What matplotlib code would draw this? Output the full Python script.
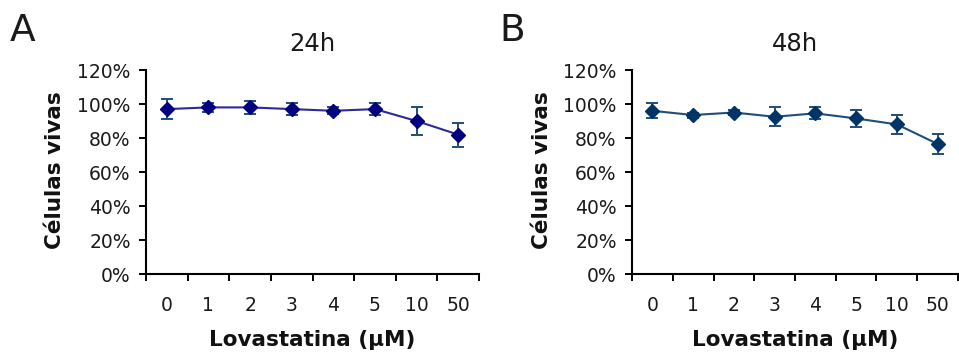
import matplotlib
matplotlib.use("Agg")
import matplotlib.pyplot as plt
import numpy as np

categories = ["0", "1", "2", "3", "4", "5", "10", "50"]
vals_24h = [97, 98, 98, 97, 96, 97, 90, 82]
err_24h = [6, 2.5, 4, 3.5, 2, 3.5, 8, 7]
vals_48h = [96, 93.5, 95, 92.5, 94.5, 91.5, 88, 76.5]
err_48h = [4.5, 1.5, 1.5, 5.5, 3.5, 5, 5.5, 6]
yticks = [0, 20, 40, 60, 80, 100, 120]

plt.rcParams['font.family'] = ['DejaVu Sans']

W, H = 959, 352
fig = plt.figure(figsize=(W / 100, H / 100), dpi=100)

def make_panel(left_px, right_px, vals, errs, title, letter, letter_x, ylabel_x,
               mcolor, lcolor, ecolor):
    bottom_px, top_px = 274, 70
    ax = fig.add_axes([left_px / W, (H - bottom_px) / H,
                       (right_px - left_px) / W, (bottom_px - top_px) / H])
    x = np.arange(len(categories))
    ax.plot(x, vals, color=lcolor, lw=1.5, zorder=2)
    ax.errorbar(x, vals, yerr=errs, fmt='none', ecolor=ecolor, elinewidth=1.4,
                capsize=4, capthick=1.4, zorder=3)
    ax.plot(x, vals, ls='none', marker='D', ms=7, color=mcolor, zorder=4)
    ax.set_xlim(-0.5, len(categories) - 0.5)
    ax.set_ylim(0, 120)
    ax.set_yticks(yticks)
    ax.set_yticklabels([f"{v}%" for v in yticks], fontsize=13.5, color='#1a1a1a')
    ax.set_xticks(np.arange(len(categories) + 1) - 0.5)
    ax.set_xticklabels([])
    ax.set_xticks(x, minor=True)
    ax.set_xticklabels(categories, minor=True, fontsize=13.5, color='#1a1a1a')
    ax.tick_params(axis='x', which='major', direction='out', length=5, width=1.4)
    ax.tick_params(axis='x', which='minor', length=0, pad=16)
    ax.tick_params(axis='y', direction='out', length=5, width=1.4, pad=6)
    for s in ['top', 'right']:
        ax.spines[s].set_visible(False)
    for s in ['left', 'bottom']:
        ax.spines[s].set_linewidth(1.5)
    ax.set_title(title, fontsize=17.5, pad=14, color='#1a1a1a')
    fig.text(letter_x / W, 1 - 31 / H, letter, fontsize=27, va='center', ha='left',
             color='#1a1a1a')
    fig.text(ylabel_x / W, 1 - 170 / H, "Células vivas", rotation=90, fontsize=15.5,
             fontweight='bold', ha='center', va='center', color='#111111')
    fig.text((left_px + right_px) / 2 / W, 1 - 340 / H, "Lovastatina (µM)",
             fontsize=15.5, fontweight='bold', ha='center', va='center',
             color='#111111')
    return ax

make_panel(146, 479, vals_24h, err_24h, "24h", "A", 10, 55,
           '#000080', '#2a2a99', '#1f4e79')
make_panel(632, 958, vals_48h, err_48h, "48h", "B", 499, 542,
           '#003366', '#1f4e79', '#1f4e79')

fig.savefig("out.png", dpi=100)
